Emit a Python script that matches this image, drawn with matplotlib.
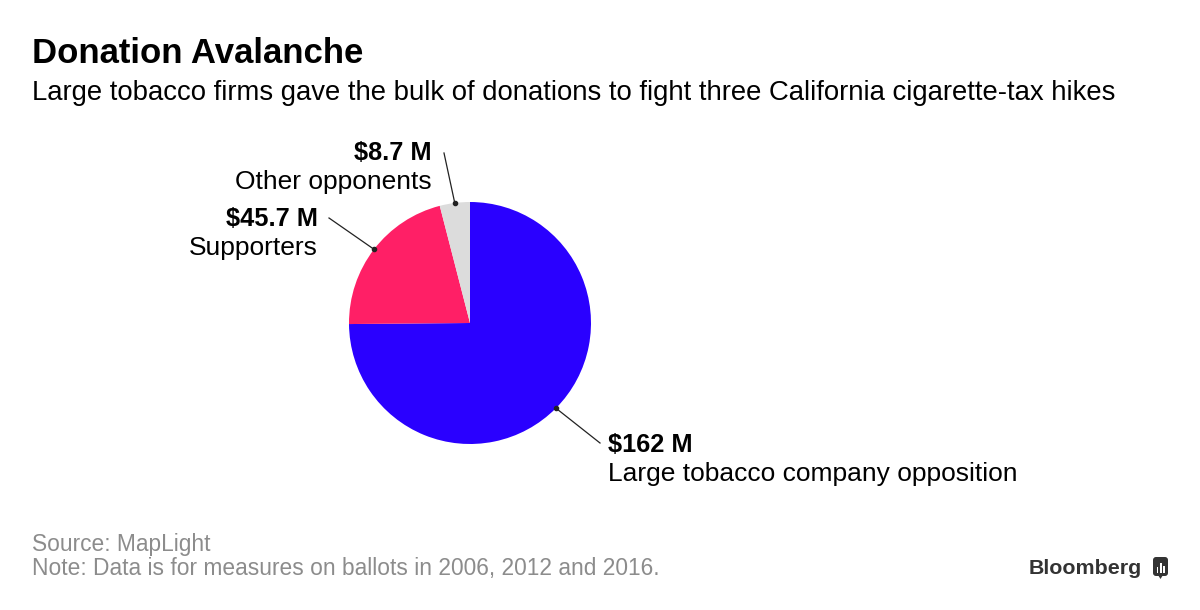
import matplotlib
matplotlib.use("Agg")
import matplotlib.pyplot as plt
from matplotlib.patches import FancyBboxPatch, Rectangle, Polygon
import numpy as np

plt.rcParams['font.family'] = ['Liberation Sans', 'DejaVu Sans']

# ---- data ----
categories = ["Large tobacco company opposition", "Supporters", "Other opponents"]
values = [162, 45.7, 8.7]
value_labels = ["$162 M", "$45.7 M", "$8.7 M"]
colors = ["#2a00ff", "#ff1f66", "#dcdcdc"]

title = "Donation Avalanche"
subtitle = "Large tobacco firms gave the bulk of donations to fight three California cigarette-tax hikes"
source = "Source: MapLight"
note = "Note: Data is for measures on ballots in 2006, 2012 and 2016."

W, H = 1200, 610
fig = plt.figure(figsize=(12, 6.1), dpi=100)
ax = fig.add_axes([0, 0, 1, 1])

def Y(py):
    return H - py

cx, cy, r = 470, Y(323), 121
wedges, _ = ax.pie(values, colors=colors, startangle=90, counterclock=False,
                   center=(cx, cy), radius=r, frame=True,
                   wedgeprops=dict(linewidth=0))
ax.set_xlim(0, W)
ax.set_ylim(0, H)
ax.set_aspect('equal')
ax.axis('off')

# leader lines: from wedge middle on edge to label point
label_ends = [(600, Y(443)), (329, Y(218)), (444, Y(153))]
for w, end in zip(wedges, label_ends):
    ang = np.deg2rad((w.theta1 + w.theta2) / 2)
    sx, sy = cx + r * np.cos(ang), cy + r * np.sin(ang)
    ax.plot([sx, end[0]], [sy, end[1]], color='#222222', lw=0.9, zorder=5)
    ax.plot([sx], [sy], 'o', color='#222222', ms=3, zorder=6)

val_fs = 18.3
cat_fs = 19
# Large tobacco
ax.text(608, Y(452), value_labels[0], fontsize=val_fs, fontweight='bold', ha='left', va='baseline')
ax.text(608, Y(481), categories[0], fontsize=cat_fs, ha='left', va='baseline')
# Supporters
ax.text(318, Y(226), value_labels[1], fontsize=val_fs, fontweight='bold', ha='right', va='baseline')
ax.text(318, Y(255), categories[1], fontsize=cat_fs, ha='right', va='baseline')
# Other
ax.text(432, Y(160), value_labels[2], fontsize=val_fs, fontweight='bold', ha='right', va='baseline')
ax.text(432, Y(189), categories[2], fontsize=cat_fs, ha='right', va='baseline')

ax.text(32, Y(63), title, fontsize=25, fontweight='bold', ha='left', va='baseline', color='black')
ax.text(32, Y(100), subtitle, fontsize=19.8, ha='left', va='baseline', color='black')

ax.text(32, Y(551), source, fontsize=16.4, ha='left', va='baseline', color='#8c8c8c')
ax.text(32, Y(575), note, fontsize=16.4, ha='left', va='baseline', color='#8c8c8c')

ax.text(1142, Y(574), "Bloomberg", fontsize=15.4, fontweight='bold', ha='right', va='baseline', color='#333333')
# logo icon
ix, iy, iw, ih = 1153, Y(576), 15, 19
ax.add_patch(FancyBboxPatch((ix, iy), iw, ih, boxstyle="round,pad=0,rounding_size=3",
                            fc='#333333', ec='none'))
ax.add_patch(Polygon([(ix + 5, iy + 1), (ix + 10, iy + 1), (ix + 7.5, iy - 3)],
                     closed=True, fc='#333333', ec='none'))
for bx, bh in [(ix + 3.5, 6), (ix + 6.8, 10), (ix + 10.1, 7)]:
    ax.add_patch(Rectangle((bx, iy + 3), 1.8, bh, fc='white', ec='none'))

fig.savefig("out.png", dpi=100, facecolor='white')
